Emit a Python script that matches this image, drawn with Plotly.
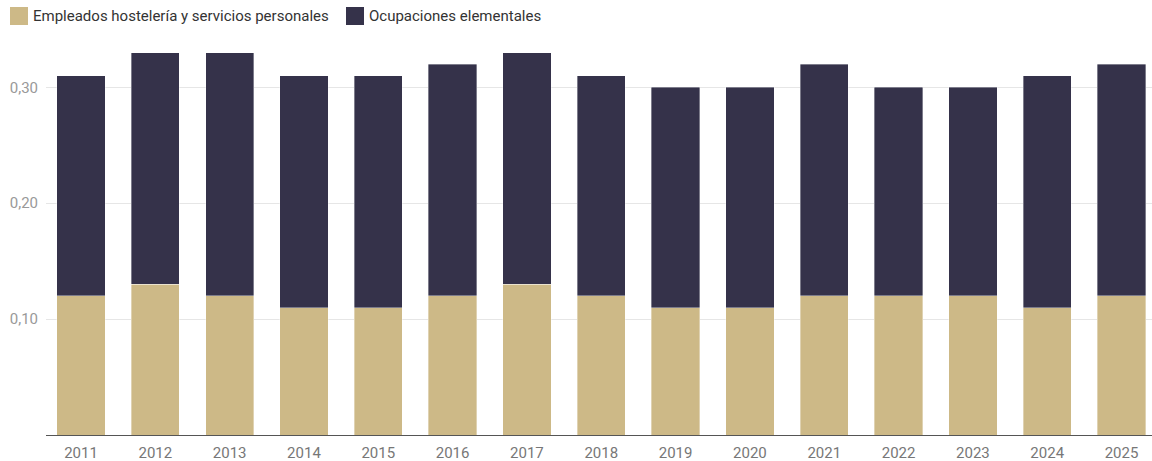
import plotly.graph_objects as go

years = ["2011", "2012", "2013", "2014", "2015", "2016", "2017", "2018",
         "2019", "2020", "2021", "2022", "2023", "2024", "2025"]
hosteleria = [0.12, 0.13, 0.12, 0.11, 0.11, 0.12, 0.13, 0.12,
              0.11, 0.11, 0.12, 0.12, 0.12, 0.11, 0.12]
elementales = [0.19, 0.20, 0.21, 0.20, 0.20, 0.20, 0.20, 0.19,
               0.19, 0.19, 0.20, 0.18, 0.18, 0.20, 0.20]
series_names = ["Empleados hostelería y servicios personales", "Ocupaciones elementales"]
colors = ["#CDB987", "#35324A"]

W, H = 1152, 461
fig = go.Figure()
for name, vals, col in zip(series_names, [hosteleria, elementales], colors):
    fig.add_trace(go.Bar(
        x=list(range(len(years))), y=vals, name=name,
        marker=dict(color=col, line=dict(color="rgba(255,255,255,0.6)", width=0.6)),
        showlegend=False,
    ))

# custom legend with larger swatches
legend_x = [10, 346]
for lx, name, col in zip(legend_x, series_names, colors):
    fig.add_shape(type="rect", xref="paper", yref="paper",
                  x0=(lx - 46) / (W - 46), x1=(lx + 18 - 46) / (W - 46),
                  y0=(435 - 25) / (435 - 41), y1=(435 - 7) / (435 - 41),
                  fillcolor=col, line=dict(width=0), layer="above")
    fig.add_annotation(xref="paper", yref="paper",
                       x=(lx + 21 - 46) / (W - 46), y=(435 - 16) / (435 - 41),
                       xanchor="left", yanchor="middle", showarrow=False,
                       text=name, font=dict(size=15, color="#333333"))

fig.update_layout(
    barmode="stack",
    bargap=0.35,
    width=W, height=H,
    margin=dict(l=46, r=0, t=41, b=26),
    plot_bgcolor="white", paper_bgcolor="white",
    font=dict(family="Roboto", size=15, color="#888888"),
    separators=",.",
    xaxis=dict(
        tickmode="array", tickvals=list(range(len(years))), ticktext=years,
        range=[-0.471, 14.41], showgrid=False, showline=True,
        linecolor="#555555", linewidth=1, ticks="", ticklabelstandoff=4,
        tickfont=dict(size=15, color="#777777"), automargin=False,
    ),
    yaxis=dict(
        range=[0, 0.34], tickvals=[0.1, 0.2, 0.3], tickformat=".2f",
        showgrid=True, gridcolor="#E6E6E6", gridwidth=1, zeroline=False,
        showline=False, ticks="", ticklabelstandoff=7, automargin=False,
        tickfont=dict(size=15, color="#999999"),
    ),
)

fig.write_html("out.html")
